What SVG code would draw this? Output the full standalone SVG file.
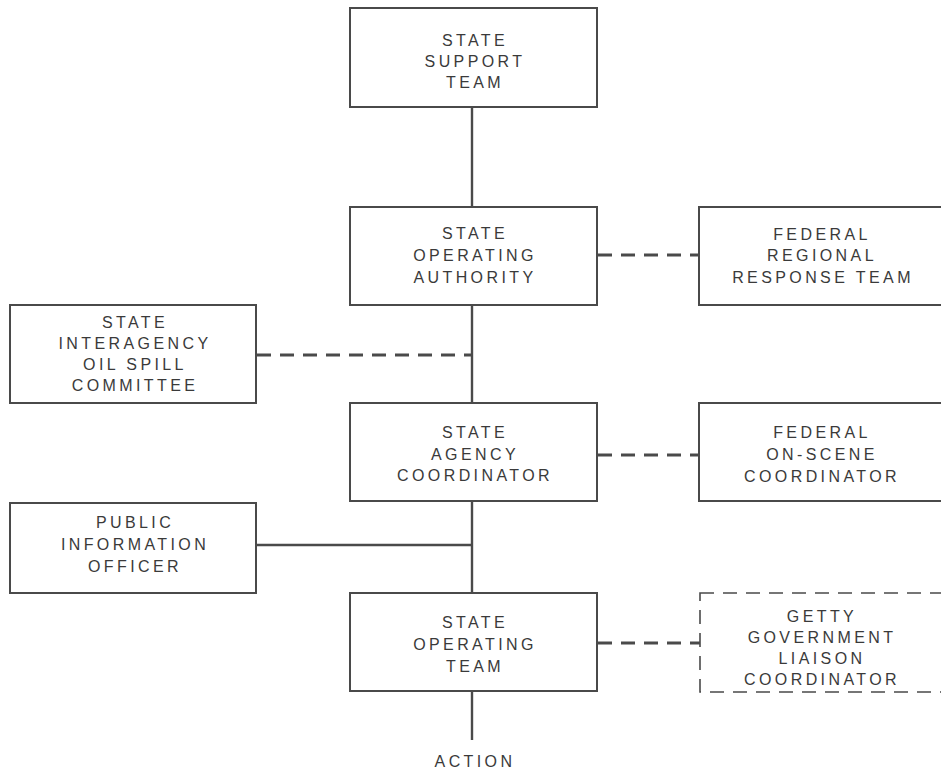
<svg xmlns="http://www.w3.org/2000/svg" width="941" height="771" viewBox="0 0 941 771">
  <style>
    .box { fill: #ffffff; stroke: #4a4a4a; stroke-width: 2; }
    .dbox { fill: #ffffff; stroke: #4a4a4a; stroke-width: 1.6; stroke-dasharray: 14 9; }
    .solid { stroke: #4a4a4a; stroke-width: 2.4; fill: none; }
    .dash { stroke: #4a4a4a; stroke-width: 3; fill: none; stroke-dasharray: 14 9; }
    text { font-family: "Liberation Sans", Arial, sans-serif; font-size: 16px; letter-spacing: 3.4px; fill: #3a3a3a; text-anchor: middle; }
  </style>
  <rect width="941" height="771" fill="#ffffff"/>

  <!-- connectors -->
  <g id="connectors">
    <line class="solid" x1="472" y1="107" x2="472" y2="207"/>
    <line class="solid" x1="472" y1="305" x2="472" y2="403"/>
    <line class="solid" x1="472" y1="501" x2="472" y2="593"/>
    <line class="solid" x1="472" y1="691" x2="472" y2="740"/>
    <line class="dash" x1="598" y1="255" x2="699" y2="255"/>
    <line class="dash" x1="257" y1="355" x2="472" y2="355"/>
    <line class="dash" x1="598" y1="455" x2="699" y2="455"/>
    <line class="solid" x1="256" y1="545" x2="472" y2="545"/>
    <line class="dash" x1="598" y1="643" x2="700" y2="643"/>
  </g>

  <g id="state-support-team">
    <rect class="box" x="350" y="8" width="247" height="99"/>
    <text x="475" y="46">STATE</text>
    <text x="475" y="67">SUPPORT</text>
    <text x="475" y="88">TEAM</text>
  </g>

  <g id="state-operating-authority">
    <rect class="box" x="350" y="207" width="247" height="98"/>
    <text x="475" y="239">STATE</text>
    <text x="475" y="261">OPERATING</text>
    <text x="475" y="283">AUTHORITY</text>
  </g>

  <g id="federal-regional-response-team">
    <rect class="box" x="699" y="207" width="250" height="98"/>
    <text x="822" y="240">FEDERAL</text>
    <text x="822" y="261">REGIONAL</text>
    <text x="823" y="283">RESPONSE TEAM</text>
  </g>

  <g id="state-interagency-oil-spill-committee">
    <rect class="box" x="10" y="305" width="246" height="98"/>
    <text x="135" y="328">STATE</text>
    <text x="135" y="349">INTERAGENCY</text>
    <text x="135" y="370">OIL SPILL</text>
    <text x="135" y="391">COMMITTEE</text>
  </g>

  <g id="state-agency-coordinator">
    <rect class="box" x="350" y="403" width="247" height="98"/>
    <text x="475" y="438">STATE</text>
    <text x="475" y="460">AGENCY</text>
    <text x="475" y="481">COORDINATOR</text>
  </g>

  <g id="federal-on-scene-coordinator">
    <rect class="box" x="699" y="403" width="250" height="98"/>
    <text x="822" y="438">FEDERAL</text>
    <text x="822" y="460">ON-SCENE</text>
    <text x="822" y="482">COORDINATOR</text>
  </g>

  <g id="public-information-officer">
    <rect class="box" x="10" y="503" width="246" height="90"/>
    <text x="135" y="528">PUBLIC</text>
    <text x="135" y="550">INFORMATION</text>
    <text x="135" y="572">OFFICER</text>
  </g>

  <g id="state-operating-team">
    <rect class="box" x="350" y="593" width="247" height="98"/>
    <text x="475" y="628">STATE</text>
    <text x="475" y="650">OPERATING</text>
    <text x="475" y="672">TEAM</text>
  </g>

  <g id="getty-government-liaison-coordinator">
    <rect class="dbox" x="700" y="593" width="250" height="99"/>
    <text x="822" y="622">GETTY</text>
    <text x="822" y="643">GOVERNMENT</text>
    <text x="822" y="664">LIAISON</text>
    <text x="822" y="685">COORDINATOR</text>
  </g>

  <g id="action">
    <text x="475" y="767">ACTION</text>
  </g>
</svg>
